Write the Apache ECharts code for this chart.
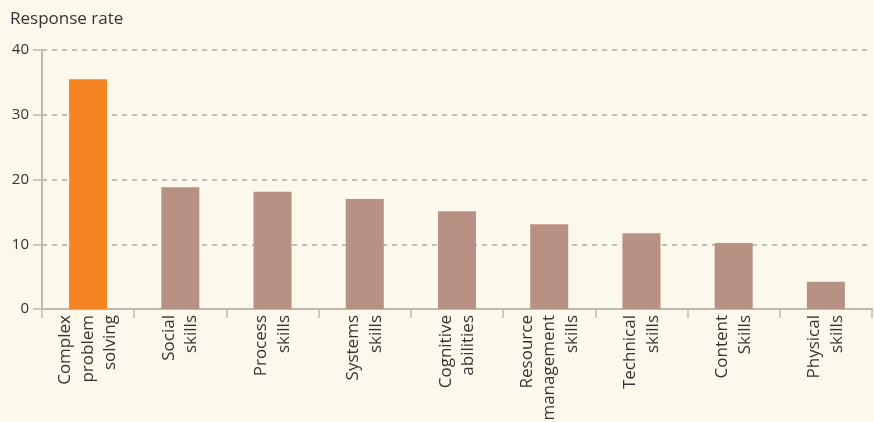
<!DOCTYPE html>
<html><head><meta charset="utf-8">
<script src="https://cdn.jsdelivr.net/npm/echarts@6/dist/echarts.min.js"></script>
<style>html,body{margin:0;padding:0;background:#fdf8ec;}#c{width:874px;height:422px;}</style>
</head><body><div id="c"></div>
<script>
const categories = ["Complex\nproblem\nsolving","Social\nskills","Process\nskills","Systems\nskills","Cognitive\nabilities","Resource\nmanagement\nskills","Technical\nskills","Content\nSkills","Physical\nskills"];
const values = [35.5, 18.8, 18.1, 17.0, 15.1, 13.1, 11.7, 10.2, 4.2];
const colors = ["#f58423","#b79183","#b79183","#b79183","#b79183","#b79183","#b79183","#b79183","#b79183"];
const yTicks = [0, 10, 20, 30, 40];

const chart = echarts.init(document.getElementById('c'), null, {renderer:'canvas'});
chart.setOption({
  backgroundColor: '#fdf8ec',
  animation: false,
  title: {text: 'Response rate', left: 5, top: 6, textStyle: {fontFamily: 'Open Sans', fontSize: 17, fontWeight: 'normal', color: '#333'}},
  grid: {left: 42, right: 2, top: 50, bottom: 113, containLabel: false, outerBoundsMode: 'none'},
  xAxis: {
    type: 'category', data: categories,
    axisLine: {lineStyle: {color: '#bdb9b0', width: 2}},
    axisTick: {show: true, length: 9, lineStyle: {color: '#bdb9b0', width: 1.5}},
    axisLabel: {rotate: 90, margin: 6, fontFamily: 'Open Sans', fontSize: 17, lineHeight: 22.5, color: '#333', interval: 0}
  },
  yAxis: {
    type: 'value', min: yTicks[0], max: yTicks[yTicks.length-1], interval: 10,
    axisLine: {show: true, lineStyle: {color: '#bdb9b0', width: 2}},
    axisTick: {show: true, length: 9, lineStyle: {color: '#bdb9b0', width: 1.5}},
    axisLabel: {margin: 13, fontFamily: 'Open Sans', fontSize: 15, color: '#333'},
    splitLine: {show: true, showMinLine: false, lineStyle: {color: '#aaa', type: [5,5], width: 1.5}}
  },
  series: [{
    type: 'bar', barWidth: 38,
    data: values.map((v,i) => ({value: v, itemStyle: {color: colors[i]}}))
  }]
});
</script></body></html>
